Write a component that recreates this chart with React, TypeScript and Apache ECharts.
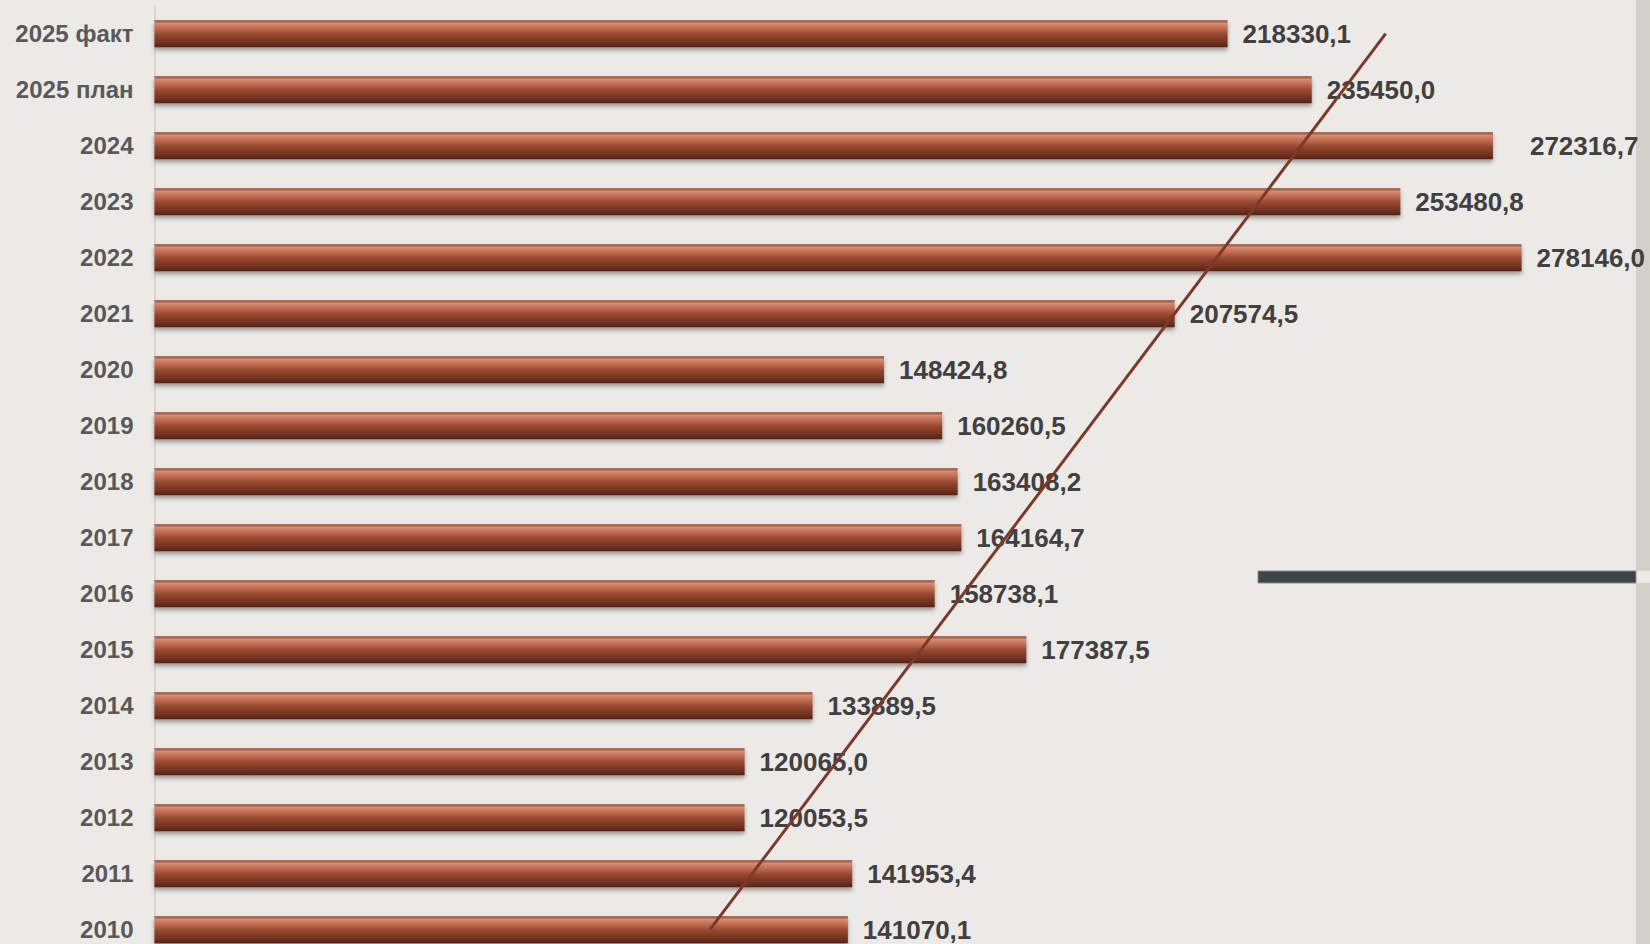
import React, { useEffect, useRef } from "react";
import * as echarts from "echarts";

const categories = [
  "2025 факт", "2025 план", "2024", "2023", "2022", "2021", "2020", "2019",
  "2018", "2017", "2016", "2015", "2014", "2013", "2012", "2011", "2010",
];
const values = [
  218330.1, 235450.0, 272316.7, 253480.8, 278146.0, 207574.5, 148424.8, 160260.5,
  163408.2, 164164.7, 158738.1, 177387.5, 133889.5, 120065.0, 120053.5, 141953.4, 141070.1,
];
// decorative trend line endpoints (top: 2025 факт, bottom: 2010)
const trendTop = 250500;
const trendBottom = 113000;

const fmt = (v: number) => v.toFixed(1).replace(".", ",");

export default function App() {
  const ref = useRef<HTMLDivElement>(null);
  useEffect(() => {
    if (!ref.current) return;
    const chart = echarts.init(ref.current, undefined, { renderer: "svg" });
    const barGrad = new echarts.graphic.LinearGradient(0, 0, 0, 1, [
      { offset: 0, color: "#8a4330" },
      { offset: 0.12, color: "#d98a70" },
      { offset: 0.3, color: "#c06c52" },
      { offset: 0.55, color: "#93452d" },
      { offset: 0.85, color: "#6e3020" },
      { offset: 1, color: "#4d2519" },
    ]);
    const trendData = categories.map((_, i) =>
      i === 0 ? trendTop : i === categories.length - 1 ? trendBottom : null
    );
    chart.setOption({
      animation: false,
      backgroundColor: "#ECE9E6",
      grid: { left: 154.5, top: 5.7, width: 1474.5, height: 952, containLabel: false },
      xAxis: {
        type: "value",
        min: 0,
        max: 300000,
        show: false,
      },
      yAxis: {
        type: "category",
        data: categories,
        inverse: true,
        axisLine: { show: true, lineStyle: { color: "#d8d5d1", width: 2 } },
        axisTick: { show: false },
        axisLabel: {
          color: "#595959",
          fontWeight: "bold",
          fontSize: 24,
          fontFamily: "Liberation Sans, Arial, sans-serif",
          margin: 21,
        },
      },
      series: [
        {
          type: "bar",
          data: values.map((v, i) =>
            i === 2 ? { value: v, label: { distance: 37 } } : v
          ),
          barWidth: 27,
          itemStyle: {
            color: barGrad,
            shadowColor: "rgba(0,0,0,0.35)",
            shadowBlur: 4,
            shadowOffsetY: 3,
          },
          label: {
            show: true,
            position: "right",
            distance: 15,
            color: "#404040",
            fontWeight: "bold",
            fontSize: 26,
            fontFamily: "Liberation Sans, Arial, sans-serif",
            formatter: (p: any) => fmt(p.value),
          },
          z: 2,
        },
        {
          type: "line",
          data: trendData,
          connectNulls: true,
          symbol: "none",
          lineStyle: { color: "#7b3a28", width: 3 },
          z: 5,
        },
      ],
      graphic: [
        {
          type: "rect",
          shape: { x: 1636, y: 0, width: 14, height: 960 },
          style: { fill: "#D3D0C9" },
          z: 0,
        },
        {
          type: "rect",
          shape: { x: 1636, y: 571, width: 14, height: 12 },
          style: { fill: "#ECE9E6" },
          z: 0,
        },
        {
          type: "rect",
          shape: { x: 1258, y: 571, width: 378, height: 12 },
          style: { fill: "#3C4548", stroke: "#8c8c8c", lineWidth: 1 },
          z: 0,
        },
      ],
    });
    return () => chart.dispose();
  }, []);
  return (
    <div
      ref={ref}
      style={{ position: "fixed", left: 0, top: 0, width: 1650, height: 960 }}
    />
  );
}
